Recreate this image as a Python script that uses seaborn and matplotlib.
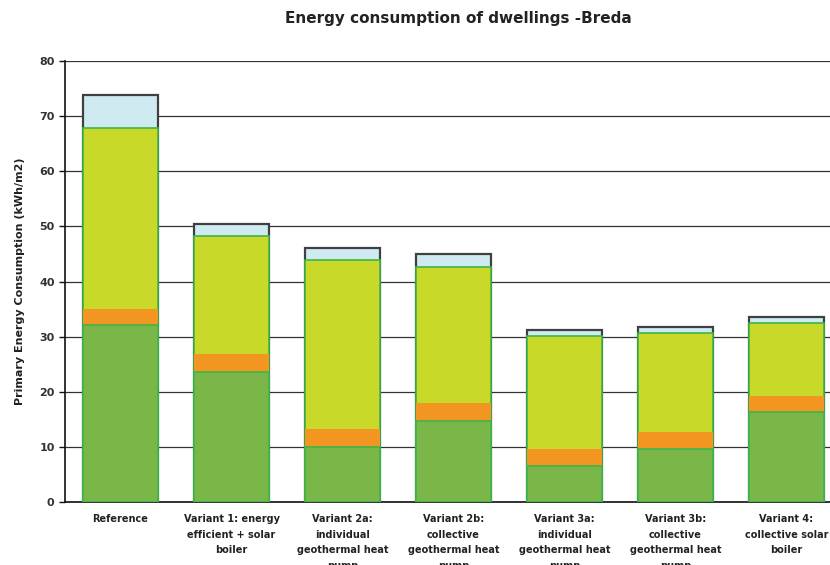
import numpy as np
import pandas as pd
import matplotlib
matplotlib.use("Agg")
import matplotlib.pyplot as plt
import seaborn as sns

categories = [
    "Reference",
    "Variant 1: energy\nefficient + solar\nboiler",
    "Variant 2a:\nindividual\ngeothermal heat\npump",
    "Variant 2b:\ncollective\ngeothermal heat\npump",
    "Variant 3a:\nindividual\ngeothermal heat\npump",
    "Variant 3b:\ncollective\ngeothermal heat\npump",
    "Variant 4:\ncollective solar\nboiler",
]
# stacked components (kWh/m2), bottom to top
base_green = [32.1, 23.6, 10.0, 14.7, 6.5, 9.6, 16.3]
orange = [2.9, 3.2, 3.2, 3.3, 3.1, 3.1, 2.9]
yellow = [32.8, 21.5, 30.7, 24.6, 20.5, 17.9, 13.3]
light_blue = [6.0, 2.1, 2.2, 2.4, 1.1, 1.1, 1.1]
y_ticks = [0, 10, 20, 30, 40, 50, 60, 70, 80]

df = pd.DataFrame({"variant": categories, "green": base_green, "orange": orange,
                   "yellow": yellow, "blue": light_blue})
df["c_green"] = df["green"]
df["c_orange"] = df["c_green"] + df["orange"]
df["c_yellow"] = df["c_orange"] + df["yellow"]
df["c_blue"] = df["c_yellow"] + df["blue"]

sns.set_style("white")
plt.rcParams["font.family"] = ["DejaVu Sans"]

fig = plt.figure(figsize=(8.3, 5.65), dpi=100)
ax = fig.add_axes([65 / 830, 63 / 565, 777 / 830, 441 / 565])

layers = [
    ("c_blue", "#CFEBF1", "#404040", 1.6),
    ("c_yellow", "#C9D929", "#3DB54A", 1.2),
    ("c_orange", "#F39621", "none", 0),
    ("c_green", "#7AB648", "#3DB54A", 1.2),
]
for col, fc, ec, lw in layers:
    sns.barplot(data=df, x="variant", y=col, order=categories, color=fc,
                saturation=1, edgecolor=ec, linewidth=lw, width=0.68,
                errorbar=None, ax=ax, zorder=3)

ax.set_ylim(0, 80)
ax.set_xlim(-0.5, 6.5)
ax.set_yticks(y_ticks)
ax.set_yticklabels([str(t) for t in y_ticks], fontsize=8, fontweight="bold", color="#333333")
ax.yaxis.grid(True, color="#333333", linewidth=0.9)
ax.set_axisbelow(True)
ax.set_xticks(range(len(categories)))
ax.set_xticklabels(categories, fontsize=7, fontweight="bold", color="#222222",
                   linespacing=1.68)
ax.tick_params(axis="x", which="major", length=0, pad=9)
ax.set_xticks(np.arange(-0.5, 7, 1), minor=True)
ax.tick_params(axis="x", which="minor", length=4, width=1, direction="out", color="#111111")
ax.tick_params(axis="y", length=4, width=1, direction="out", color="#111111", left=True)
for s in ["top", "right"]:
    ax.spines[s].set_visible(False)
for s in ["left", "bottom"]:
    ax.spines[s].set_color("#111111")
    ax.spines[s].set_linewidth(1.2)
ax.set_xlabel("")
ax.set_ylabel("Primary Energy Consumption (kWh/m2)", fontsize=8, fontweight="bold",
              color="#222222", labelpad=10)
fig.text(458 / 830, 1 - 18 / 565, "Energy consumption of dwellings -Breda",
         ha="center", va="center", fontsize=11, fontweight="bold", color="#222222")

fig.savefig("out.png", dpi=100)
